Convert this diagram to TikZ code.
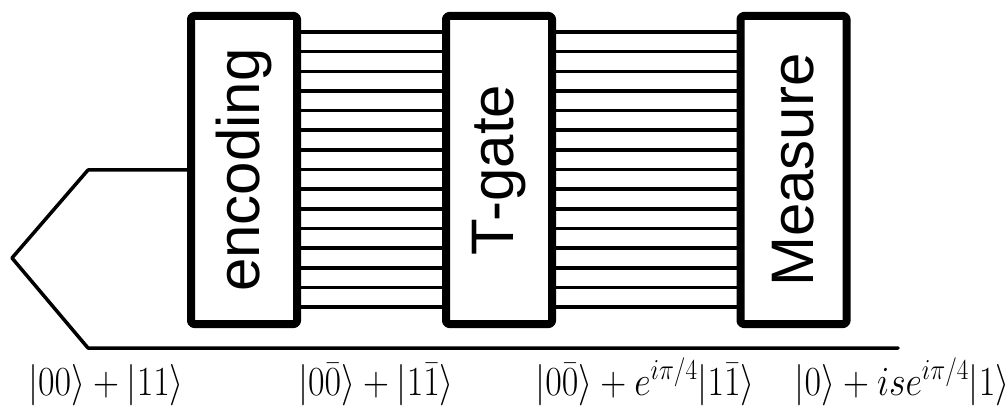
\RequirePackage{fix-cm}
\documentclass[tikz,border=0pt]{standalone}
\usepackage{amsmath}
\usepackage{fontspec}
\newfontfamily\gatefont{Liberation Sans}
\usetikzlibrary{calc}

\begin{document}
\begin{tikzpicture}[
  x=1pt,y=-1pt,
  line cap=round,
  line join=round,
  gate/.style={draw=black,line width=8pt,rounded corners=3pt,fill=white,
    minimum width=106pt,minimum height=308pt,inner sep=0pt,
    font=\gatefont\fontsize{60}{72}\selectfont},
  wire/.style={draw=black,line width=3.5pt},
  leg/.style={draw=black,line width=3.5pt},
  lbl/.style={anchor=base,inner sep=0pt,font=\fontsize{36}{42}\selectfont}
]
\useasboundingbox (0,0) rectangle (1008,406);

% the three blocks
\node[gate] (enc)   at (244,170)   {\rotatebox{90}{encoding}};
\node[gate] (tgate) at (499,170)   {\rotatebox{90}{T-gate}};
\node[gate] (meas)  at (793.5,170) {\rotatebox{90}{Measure}};

% encoded wires between the blocks
\foreach \k [evaluate=\k as \y using 32+19.65*\k] in {0,...,14} {
  \draw[wire] (enc.east |- 0,\y) -- (tgate.west |- 0,\y);
  \draw[wire] (tgate.east |- 0,\y) -- (meas.west |- 0,\y);
}

% input pair and time line
\coordinate (tl)  at (88,170);
\coordinate (tip) at (12,258);
\coordinate (bl)  at (88,348);
\coordinate (br)  at (898,348);
\draw[leg] (enc.west) -- (tl) -- (tip) -- (bl) -- (br);

% states along the line
\node[lbl] (s0) at (106,395) {\scalebox{1}[1.15]{$|00\rangle + |11\rangle$}};
\node[lbl] (s1) at (376,395) {\scalebox{1}[1.15]{$|0\bar{0}\rangle + |1\bar{1}\rangle$}};
\node[lbl] (s2) at (645,395) {\scalebox{1}[1.15]{$|0\bar{0}\rangle + e^{i\pi/4}|1\bar{1}\rangle$}};
\node[lbl] (s3) at (902,395) {\scalebox{1}[1.15]{$|0\rangle + ise^{i\pi/4}|1\rangle$}};

\end{tikzpicture}
\end{document}
